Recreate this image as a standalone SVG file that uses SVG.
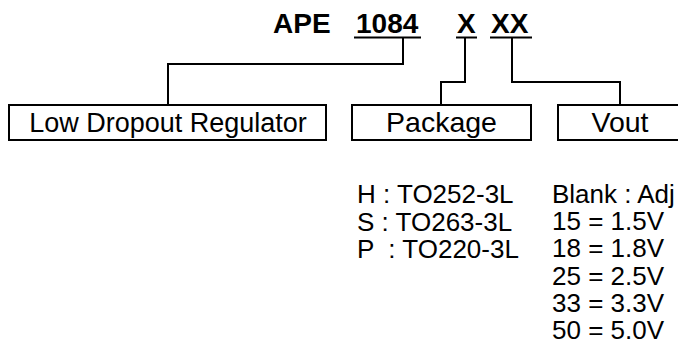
<svg xmlns="http://www.w3.org/2000/svg" width="678" height="340" viewBox="0 0 678 340">
<style>
text{font-family:"Liberation Sans",Arial,sans-serif;fill:#000}
.t{font-weight:bold;font-size:28px}
.lb{font-size:27px}
.lw{font-size:28.5px}
.ls{font-size:26px}
.box{fill:#fff;stroke:#000;stroke-width:2}
.ln{fill:none;stroke:#000;stroke-width:2}
</style>
<rect width="678" height="340" fill="#fff"/>
<g id="title">
<text class="t" x="273" y="33">APE</text>
<text class="t" x="356" y="33">1084</text>
<text class="t" x="457" y="33">X</text>
<text class="t" x="491" y="33">XX</text>
<line class="ln" x1="354" y1="37.5" x2="421" y2="37.5"/>
<line class="ln" x1="456" y1="37.5" x2="477" y2="37.5"/>
<line class="ln" x1="490" y1="37.5" x2="532" y2="37.5"/>
</g>
<g id="connectors">
<polyline class="ln" points="403,38 403,64 168,64 168,104"/>
<polyline class="ln" points="465,38 465,82 441,82 441,104"/>
<polyline class="ln" points="512,38 512,82 620,82 620,104"/>
</g>
<g id="node-ldr">
<rect class="box" x="9" y="105" width="317" height="35"/>
<text class="lb" x="168" y="132" text-anchor="middle">Low Dropout Regulator</text>
</g>
<g id="node-package">
<rect class="box" x="352" y="105" width="179" height="35"/>
<text class="lw" x="441.5" y="132" text-anchor="middle">Package</text>
</g>
<g id="node-vout">
<rect class="box" x="558" y="105" width="124" height="35"/>
<text class="lw" x="620" y="132" text-anchor="middle">Vout</text>
</g>
<g id="package-list">
<text class="ls" x="357" y="203">H : TO252-3L</text>
<text class="ls" x="357" y="230.5">S : TO263-3L</text>
<text class="ls" x="357" y="258" xml:space="preserve">P  : TO220-3L</text>
</g>
<g id="vout-list">
<text class="ls" x="552" y="203">Blank : Adj</text>
<text class="ls" x="552" y="230.2">15 = 1.5V</text>
<text class="ls" x="552" y="257.4">18 = 1.8V</text>
<text class="ls" x="552" y="284.6">25 = 2.5V</text>
<text class="ls" x="552" y="311.8">33 = 3.3V</text>
<text class="ls" x="552" y="339">50 = 5.0V</text>
</g>
</svg>
